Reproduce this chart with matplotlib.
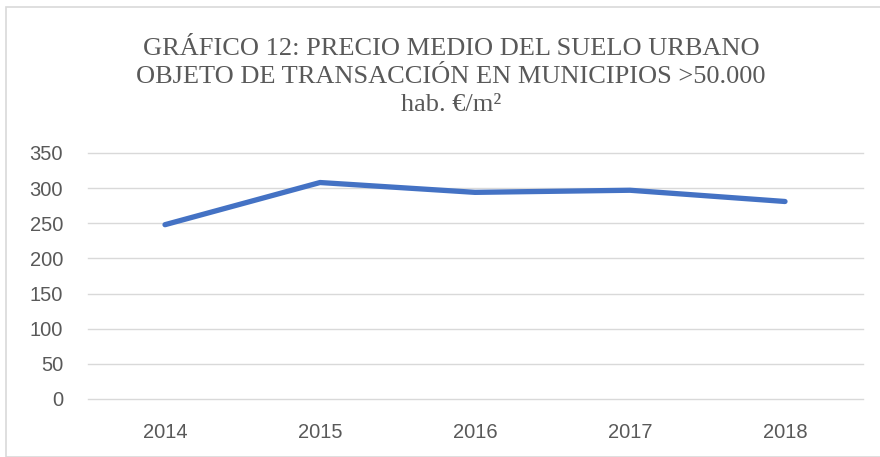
import matplotlib.pyplot as plt
from matplotlib.patches import Rectangle

years = ['2014', '2015', '2016', '2017', '2018']
precio = [248, 308, 294, 297, 281]
yticks = [0, 50, 100, 150, 200, 250, 300, 350]

title = 'GRÁFICO 12: PRECIO MEDIO DEL SUELO URBANO\nOBJETO DE TRANSACCIÓN EN MUNICIPIOS >50.000\nhab. €/m²'

grey = '#595959'

fig = plt.figure(figsize=(8.8, 4.57), dpi=100)
ax = fig.add_axes([87.5 / 880, 58 / 457, 775 / 880, 246 / 457])

# chart frame
fig.patches.append(Rectangle((6 / 880, 0), 1, 450 / 457, transform=fig.transFigure,
                             fill=False, edgecolor='#d9d9d9', linewidth=1.2))

x = range(len(years))
ax.plot(x, precio, color='#4472C4', linewidth=3.8, solid_capstyle='round',
        solid_joinstyle='round')

ax.set_xlim(-0.5, len(years) - 0.5)
ax.set_ylim(0, 350)
ax.set_yticks(yticks)
ax.set_xticks(list(x))
ax.set_xticklabels(years)
ax.grid(axis='y', color='#d9d9d9', linewidth=1)
for gl in ax.get_ygridlines():
    gl.set_clip_on(False)
ax.set_axisbelow(True)
for s in ax.spines.values():
    s.set_visible(False)
ax.tick_params(length=0, labelsize=14.5, colors=grey)
ax.tick_params(axis='x', pad=17)
ax.tick_params(axis='y', pad=17.5)
for lab in ax.get_xticklabels() + ax.get_yticklabels():
    lab.set_family('Liberation Sans')

fig.text(451 / 880, 1 - 77 / 457, title, ha='center', va='center',
         family='Liberation Serif', fontsize=19, color=grey, linespacing=1.36)

fig.savefig('out.png', dpi=100)
